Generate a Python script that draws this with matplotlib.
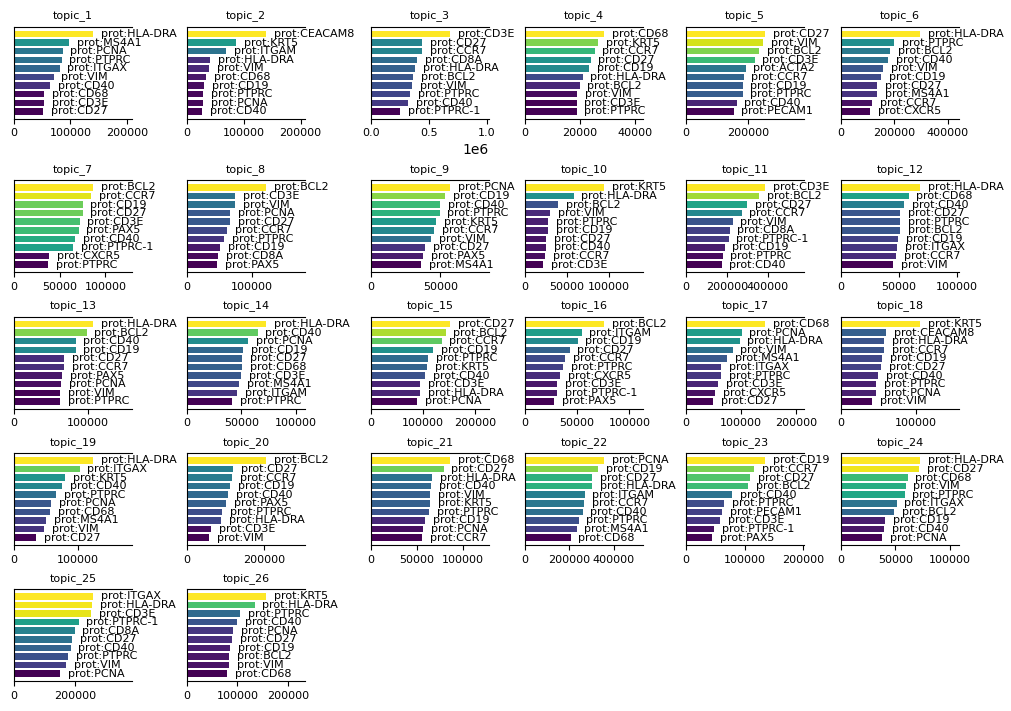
import numpy as np
import matplotlib
matplotlib.use("Agg")
import matplotlib.pyplot as plt

topic_names = ["topic_%d" % (i + 1) for i in range(26)]

top_genes = [
    ["HLA-DRA", "MS4A1", "PCNA", "PTPRC", "ITGAX", "VIM", "CD40", "CD68", "CD3E", "CD27"],
    ["CEACAM8", "KRT5", "ITGAM", "HLA-DRA", "VIM", "CD68", "CD19", "PTPRC", "PCNA", "CD40"],
    ["CD3E", "CD27", "CCR7", "CD8A", "HLA-DRA", "BCL2", "VIM", "PTPRC", "CD40", "PTPRC-1"],
    ["CD68", "KRT5", "CCR7", "CD27", "CD19", "HLA-DRA", "BCL2", "VIM", "CD3E", "PTPRC"],
    ["CD27", "VIM", "BCL2", "CD3E", "ACTA2", "CCR7", "CD19", "PTPRC", "CD40", "PECAM1"],
    ["HLA-DRA", "PTPRC", "BCL2", "CD40", "VIM", "CD19", "CD27", "MS4A1", "CCR7", "CXCR5"],
    ["BCL2", "CCR7", "CD19", "CD27", "CD3E", "PAX5", "CD40", "PTPRC-1", "CXCR5", "PTPRC"],
    ["BCL2", "CD3E", "VIM", "PCNA", "CD27", "CCR7", "PTPRC", "CD19", "CD8A", "PAX5"],
    ["PCNA", "CD19", "CD40", "PTPRC", "KRT5", "CCR7", "VIM", "CD27", "PAX5", "MS4A1"],
    ["KRT5", "HLA-DRA", "BCL2", "VIM", "PTPRC", "CD19", "CD27", "CD40", "CCR7", "CD3E"],
    ["CD3E", "BCL2", "CD27", "CCR7", "VIM", "CD8A", "PTPRC-1", "CD19", "PTPRC", "CD40"],
    ["HLA-DRA", "CD68", "CD40", "CD27", "PTPRC", "BCL2", "CD19", "ITGAX", "CCR7", "VIM"],
    ["HLA-DRA", "BCL2", "CD40", "CD19", "CD27", "CCR7", "PAX5", "PCNA", "VIM", "PTPRC"],
    ["HLA-DRA", "CD40", "PCNA", "CD19", "CD27", "CD68", "CD3E", "MS4A1", "ITGAM", "PTPRC"],
    ["CD27", "BCL2", "CCR7", "CD19", "PTPRC", "KRT5", "CD40", "CD3E", "HLA-DRA", "PCNA"],
    ["BCL2", "ITGAM", "CD19", "CD27", "CCR7", "PTPRC", "CXCR5", "CD3E", "PTPRC-1", "PAX5"],
    ["CD68", "PCNA", "HLA-DRA", "VIM", "MS4A1", "ITGAX", "PTPRC", "CD3E", "CXCR5", "CD27"],
    ["KRT5", "CEACAM8", "HLA-DRA", "CCR7", "CD19", "CD27", "CD40", "PTPRC", "PCNA", "VIM"],
    ["HLA-DRA", "ITGAX", "KRT5", "CD40", "PTPRC", "PCNA", "CD68", "MS4A1", "VIM", "CD27"],
    ["BCL2", "CD27", "CCR7", "CD19", "CD40", "PAX5", "PTPRC", "HLA-DRA", "CD3E", "VIM"],
    ["CD68", "CD27", "HLA-DRA", "CD40", "VIM", "KRT5", "PTPRC", "CD19", "PCNA", "CCR7"],
    ["PCNA", "CD19", "CD27", "HLA-DRA", "ITGAM", "CCR7", "CD40", "PTPRC", "MS4A1", "CD68"],
    ["CD19", "CCR7", "CD27", "BCL2", "CD40", "PTPRC", "PECAM1", "CD3E", "PTPRC-1", "PAX5"],
    ["HLA-DRA", "CD27", "CD68", "VIM", "PTPRC", "ITGAX", "BCL2", "CD19", "CD40", "PCNA"],
    ["ITGAX", "HLA-DRA", "CD3E", "PTPRC-1", "CD8A", "CD27", "CD40", "PTPRC", "VIM", "PCNA"],
    ["KRT5", "HLA-DRA", "PTPRC", "CD40", "PCNA", "CD27", "CD19", "BCL2", "VIM", "CD68"],
]

top_scores = [
    [139600, 97000, 86300, 84500, 80900, 70100, 64700, 53900, 53900, 52100],
    [138400, 86700, 68900, 40400, 38600, 33300, 29700, 27900, 27900, 26100],
    [679000, 444000, 443000, 400000, 382000, 365000, 356000, 338000, 321000, 250000],
    [28700, 26800, 25400, 23900, 23500, 21000, 19900, 19100, 18800, 18800],
    [254000, 247500, 234600, 221600, 192400, 186000, 182700, 182700, 163200, 153500],
    [295000, 200600, 185500, 178000, 159000, 151400, 136300, 136300, 117400, 109800],
    [86100, 83900, 75100, 75100, 71800, 70700, 67300, 65100, 38600, 37500],
    [120700, 74100, 74100, 66300, 66300, 61600, 57000, 50800, 47700, 46100],
    [56600, 53000, 50000, 49300, 47100, 45600, 43400, 39000, 37600, 36100],
    [94000, 58000, 40000, 30400, 28000, 28000, 25600, 25600, 24400, 22000],
    [385000, 356000, 297000, 272000, 228000, 213000, 208000, 189000, 179000, 174000],
    [67900, 58300, 54800, 51300, 51300, 51300, 49600, 48700, 47900, 45200],
    [106500, 98300, 83300, 83300, 68300, 68300, 65500, 64200, 62800, 62800],
    [72500, 65000, 56600, 51900, 51000, 51000, 50100, 48200, 46300, 41700],
    [150800, 143000, 135200, 119600, 109900, 107900, 104000, 94300, 94300, 88400],
    [75400, 54200, 50400, 42700, 38800, 36900, 34000, 31100, 31100, 28200],
    [143400, 101300, 97600, 84800, 75600, 64700, 64700, 59200, 53700, 50000],
    [104800, 60500, 57800, 57800, 55100, 53800, 49700, 47000, 47000, 41700],
    [123100, 102600, 80500, 75700, 66300, 58400, 56800, 50500, 47300, 34700],
    [204300, 120100, 117500, 112300, 107000, 101700, 91200, 88600, 62300, 57000],
    [85800, 79200, 67000, 65900, 64800, 64800, 63600, 59200, 57000, 55900],
    [354000, 327000, 300000, 300000, 268000, 264000, 259000, 241000, 232000, 205000],
    [134000, 116200, 109300, 106000, 78800, 65200, 61800, 58400, 48200, 44800],
    [72500, 71600, 61400, 59500, 58600, 51200, 49300, 40900, 40000, 38100],
    [256000, 254000, 252000, 210000, 197000, 190000, 184000, 177000, 170000, 151000],
    [156000, 134000, 106000, 100000, 92000, 90000, 86000, 84000, 84000, 80000],
]

# axes placement in pixels (figure is 1011 x 711)
W, H = 1011.0, 711.0
col_left = [14, 187, 371, 525, 686, 841]
row_top = [26.7, 180, 316.7, 453, 589]
ax_w, ax_h = 118, 92

fig = plt.figure(figsize=(10.11, 7.11), dpi=100)
cmap = plt.get_cmap("viridis")

for k, name in enumerate(topic_names):
    r, c = divmod(k, 6)
    ax = fig.add_axes([col_left[c] / W, 1 - (row_top[r] + ax_h) / H, ax_w / W, ax_h / H])
    vals = np.array(top_scores[k], dtype=float)
    norm = (vals - vals.min()) / (vals.max() - vals.min())
    y = np.arange(len(vals))
    ax.barh(y, vals, height=0.75, color=cmap(norm))
    for yi, v, g in zip(y, vals, top_genes[k]):
        ax.text(v + 0.1 * vals.max(), yi, "prot:" + g, va="center", ha="left", fontsize=8)
    ax.set_xlim(0, 1.5 * vals.max())
    ax.invert_yaxis()
    ax.set_yticks([])
    ax.tick_params(labelsize=8)
    ax.spines["right"].set_visible(False)
    ax.set_title(name, fontsize=8)

fig.savefig("out.png", dpi=100)
